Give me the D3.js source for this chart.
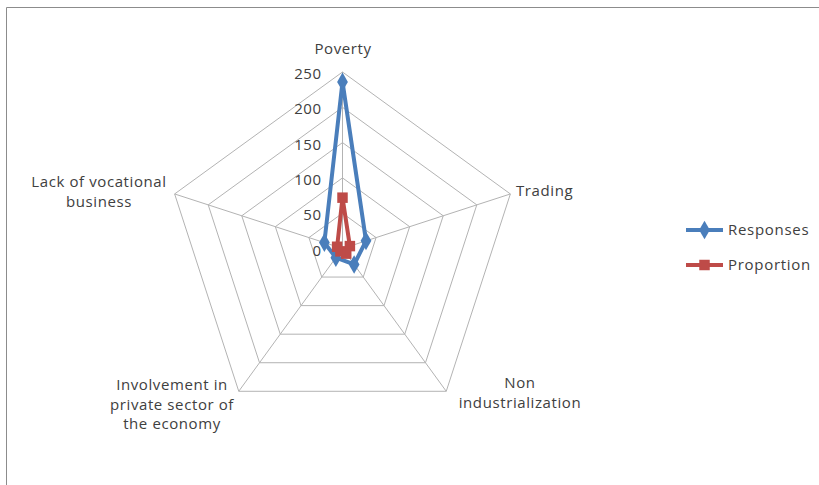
<!DOCTYPE html>
<html>
<head>
<meta charset="utf-8">
<script src="https://cdn.jsdelivr.net/npm/d3@7"></script>
<style>
  html, body { margin: 0; padding: 0; background: #fff; }
  svg { display: block; }
  text { font-family: "Open Sans", "DejaVu Sans", sans-serif; fill: #404040; }
</style>
</head>
<body>
<svg id="chart" width="819" height="485"></svg>
<script>
// Radar chart data
const categories = [
  ["Poverty"],
  ["Trading"],
  ["Non", "industrialization"],
  ["Involvement in", "private sector of", "the economy"],
  ["Lack of vocational", "business"]
];
const responses = [236, 35, 28, 16, 27];
const proportion = [72, 11, 9, 5, 8];
const ticks = [0, 50, 100, 150, 200, 250];
const seriesNames = ["Responses", "Proportion"];
const seriesColors = ["#4A7EBB", "#BE4B48"];

const svg = d3.select("#chart");
const W = 819, H = 485;

// outer frame (top and left edges)
svg.append("line").attr("x1", 6.5).attr("y1", 7.5).attr("x2", W).attr("y2", 7.5)
  .attr("stroke", "#8c8c8c").attr("stroke-width", 1);
svg.append("line").attr("x1", 6.5).attr("y1", 7.5).attr("x2", 6.5).attr("y2", H)
  .attr("stroke", "#8c8c8c").attr("stroke-width", 1);

const cx = 342.5, cy = 248.5, R = 176.5;
const r = d3.scaleLinear().domain([0, 250]).range([0, R]);
const angle = d3.scaleLinear().domain([0, categories.length]).range([0, 2 * Math.PI]);

const pt = (i, v) => {
  const a = angle(i);
  return [cx + r(v) * Math.sin(a), cy - r(v) * Math.cos(a)];
};

const g = svg.append("g");

// grid rings
ticks.slice(1).forEach(t => {
  const pts = categories.map((c, i) => pt(i, t));
  g.append("path")
    .attr("d", d3.line()(pts) + "Z")
    .attr("fill", "none").attr("stroke", "#b3b3b3").attr("stroke-width", 1);
});
// spokes
categories.forEach((c, i) => {
  const [x, y] = pt(i, 250);
  g.append("line").attr("x1", cx).attr("y1", cy).attr("x2", x).attr("y2", y)
    .attr("stroke", "#b3b3b3").attr("stroke-width", 1);
});

// tick labels along the top spoke
ticks.forEach(t => {
  g.append("text")
    .attr("x", cx - 21).attr("y", cy - r(t) + 3)
    .attr("text-anchor", "end").attr("dominant-baseline", "middle")
    .attr("font-size", 15).attr("letter-spacing", 0.5)
    .text(t);
});

// category labels
const labelPos = [
  { x: 343, y: 50, anchor: "middle" },
  { x: 516, y: 192, anchor: "start" },
  { x: 520, y: 384, anchor: "middle" },
  { x: 172, y: 386, anchor: "middle" },
  { x: 99, y: 183, anchor: "middle" }
];
categories.forEach((lines, i) => {
  const p = labelPos[i];
  const t = g.append("text")
    .attr("text-anchor", p.anchor)
    .attr("font-size", 15).attr("letter-spacing", 0.6);
  lines.forEach((ln, k) => {
    t.append("tspan").attr("x", p.x).attr("y", p.y + k * 19.5)
      .attr("dominant-baseline", "middle").text(ln);
  });
});

// series
const seriesData = [responses, proportion];
const lineGen = d3.line();
const diamond = d3.symbol().type(d3.symbolDiamond).size(100);
const square = d3.symbol().type(d3.symbolSquare).size(110);

seriesData.forEach((vals, s) => {
  const pts = vals.map((v, i) => pt(i, v));
  g.append("path")
    .attr("d", lineGen(pts) + "Z")
    .attr("fill", "none")
    .attr("stroke", seriesColors[s])
    .attr("stroke-width", 4)
    .attr("stroke-linejoin", "round");
  g.selectAll(null).data(pts).enter().append("path")
    .attr("transform", d => `translate(${d[0]},${d[1]})`)
    .attr("d", s === 0 ? diamond : square)
    .attr("fill", seriesColors[s]);
});

// legend
const legend = svg.append("g");
seriesNames.forEach((name, s) => {
  const y = 230 + s * 35;
  legend.append("line").attr("x1", 686).attr("x2", 723).attr("y1", y).attr("y2", y)
    .attr("stroke", seriesColors[s]).attr("stroke-width", 4);
  legend.append("path").attr("transform", `translate(704.5,${y})`)
    .attr("d", s === 0 ? diamond : square).attr("fill", seriesColors[s]);
  legend.append("text").attr("x", 728).attr("y", y + 1)
    .attr("dominant-baseline", "middle").attr("font-size", 15).attr("letter-spacing", 0.7)
    .text(name);
});
</script>
</body>
</html>
